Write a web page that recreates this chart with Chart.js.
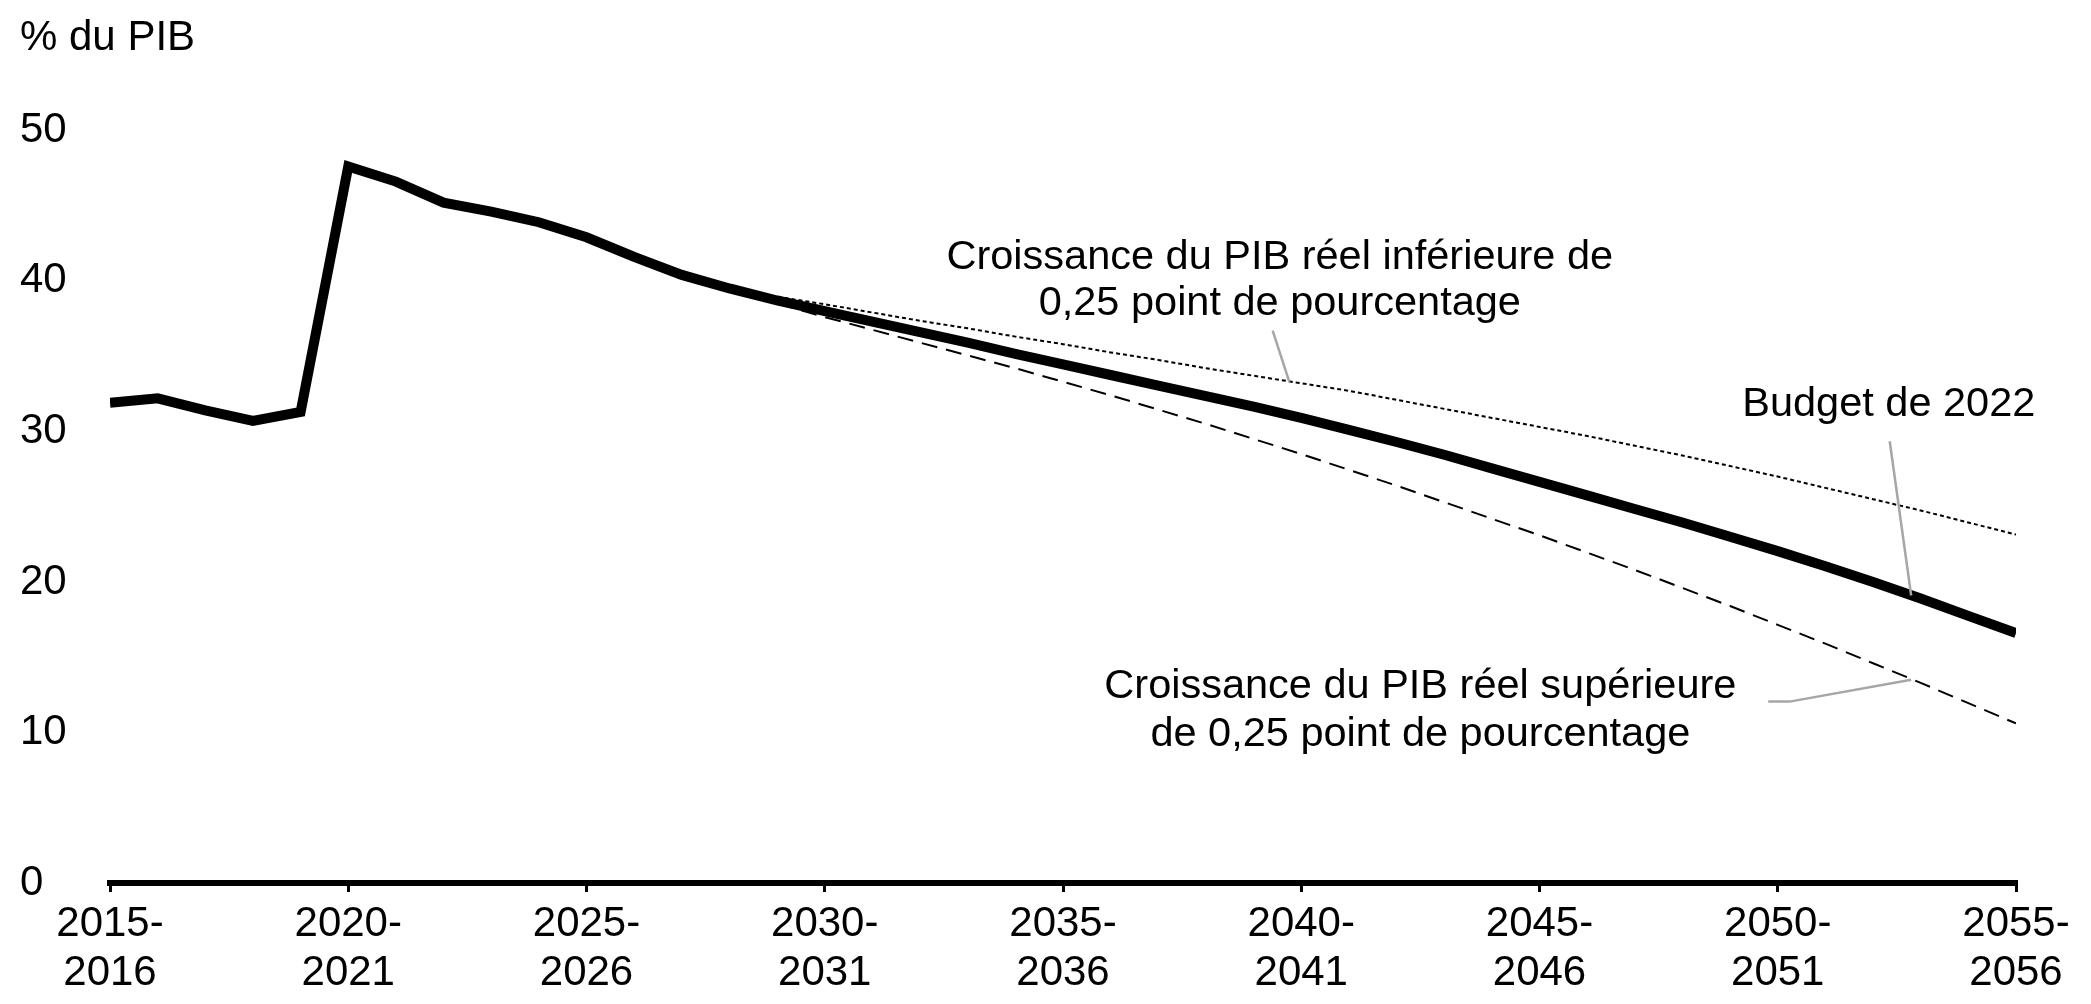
<!DOCTYPE html>
<html>
<head>
<meta charset="utf-8">
<script src="https://cdn.jsdelivr.net/npm/chart.js@4.4.1/dist/chart.umd.min.js"></script>
<style>
  html, body { margin: 0; padding: 0; background: #fff; }
  canvas { display: block; }
</style>
</head>
<body>
<canvas id="chart1" width="2091" height="1004"></canvas>
<script>
// fiscal years, labelled by start year (2015 = 2015-2016)
const years = [2015, 2016, 2017, 2018, 2019, 2020, 2021, 2022, 2023, 2024,
               2025, 2026, 2027, 2028, 2029, 2030, 2031, 2032, 2033, 2034,
               2035, 2036, 2037, 2038, 2039, 2040, 2041, 2042, 2043, 2044,
               2045, 2046, 2047, 2048, 2049, 2050, 2051, 2052, 2053, 2054, 2055];

// Budget de 2022
const budget2022 = [31.9, 32.2, 31.4, 30.7, 31.3, 47.6, 46.6, 45.2, 44.6, 43.9,
                    42.9, 41.6, 40.4, 39.5, 38.7, 38.0, 37.3, 36.6, 35.9, 35.15,
                    34.45, 33.75, 33.05, 32.35, 31.65, 30.9, 30.1, 29.3, 28.45, 27.55,
                    26.65, 25.75, 24.85, 23.95, 23.0, 22.05, 21.05, 20.0, 18.9, 17.75, 16.6];

// croissance du PIB réel inférieure de 0,25 point
const slowerGrowth = [null, null, null, null, null, null, null, null, null, null,
                      null, null, null, 39.5, 38.95, 38.45, 37.9, 37.35, 36.85, 36.3,
                      35.8, 35.25, 34.75, 34.2, 33.7, 33.2, 32.7, 32.1, 31.5, 30.9,
                      30.3, 29.7, 29.05, 28.4, 27.7, 27.0, 26.25, 25.5, 24.75, 23.95, 23.15];

// croissance du PIB réel supérieure de 0,25 point
const fasterGrowth = [null, null, null, null, null, null, null, null, null, null,
                      null, null, null, 39.5, 38.5, 37.6, 36.75, 35.9, 35.05, 34.2,
                      33.3, 32.4, 31.45, 30.5, 29.5, 28.5, 27.45, 26.4, 25.3, 24.2,
                      23.1, 21.95, 20.8, 19.6, 18.4, 17.15, 15.9, 14.6, 13.3, 11.95, 10.6];

const FONT = '"Liberation Sans", Arial, sans-serif';

const toPoints = vals => years.map((yr, i) => ({ x: yr, y: vals[i] }));

// callout texts, anchored in data units
const notes = [
  { lines: ['Croissance du PIB réel inférieure de', '0,25 point de pourcentage'],
    x: 2039.55, y: [41.55, 38.5],
    leader: [[2039.4, 36.7], [2039.75, 33.3]] },
  { lines: ['Budget de 2022'],
    x: 2052.33, y: [31.8],
    leader: [[2052.35, 29.35], [2052.8, 19.1]] },
  { lines: ['Croissance du PIB réel supérieure', 'de 0,25 point de pourcentage'],
    x: 2042.5, y: [13.05, 9.85],
    leader: [[2049.8, 12.05], [2050.25, 12.05], [2052.8, 13.5]] },
];

const calloutPlugin = {
  id: 'callouts',
  afterDatasetsDraw(chart) {
    const { ctx, scales: { x, y } } = chart;
    ctx.save();
    ctx.strokeStyle = '#a6a6a6';
    ctx.lineWidth = 2.5;
    for (let n of notes) {
      ctx.beginPath();
      n.leader.forEach(([lx, ly], i) => {
        const px = x.getPixelForValue(lx), py = y.getPixelForValue(ly);
        if (i === 0) ctx.moveTo(px, py); else ctx.lineTo(px, py);
      });
      ctx.stroke();
    }
    ctx.fillStyle = '#000';
    ctx.font = '41.5px ' + FONT;
    ctx.textAlign = 'center';
    ctx.textBaseline = 'middle';
    for (let n of notes) {
      n.lines.forEach((txt, i) => {
        ctx.fillText(txt, x.getPixelForValue(n.x), y.getPixelForValue(n.y[i]));
      });
    }
    ctx.restore();
  }
};

const debt_data = {
  datasets: [{
    label: 'Budget de 2022',
    data: toPoints(budget2022),
    borderColor: '#000',
    borderWidth: 10,
    pointRadius: 0,
    tension: 0,
    order: 0
  }, {
    label: 'Croissance du PIB réel inférieure de 0,25 point de pourcentage',
    data: toPoints(slowerGrowth),
    borderColor: '#000',
    borderWidth: 2,
    borderDash: [4, 3],
    pointRadius: 0,
    tension: 0,
    order: 1
  }, {
    label: 'Croissance du PIB réel supérieure de 0,25 point de pourcentage',
    data: toPoints(fasterGrowth),
    borderColor: '#000',
    borderWidth: 2,
    borderDash: [16, 9],
    pointRadius: 0,
    tension: 0,
    order: 2
  }]
};

const debt_config = {
  type: 'line',
  data: debt_data,
  options: {
    responsive: false,
    devicePixelRatio: 1,
    animation: false,
    layout: { padding: { left: 20, right: 75, top: 0, bottom: 2 } },
    plugins: {
      legend: { display: false },
      tooltip: { enabled: false },
      title: {
        display: true,
        text: '% du PIB',
        align: 'start',
        color: '#000',
        font: { family: FONT, size: 42, weight: 'normal' },
        padding: { top: 13, bottom: 67 }
      }
    },
    scales: {
      x: {
        type: 'linear',
        min: 2015,
        max: 2055,
        afterFit: scale => { scale.height = 119; },
        grid: { drawOnChartArea: false, drawTicks: true, tickLength: 9, color: '#000', lineWidth: 3 },
        border: { display: true, color: '#000', width: 6 },
        ticks: {
          stepSize: 5,
          color: '#000',
          padding: 8,
          maxRotation: 0,
          font: { family: FONT, size: 42, lineHeight: 1.16 },
          callback: v => [v + '-', String(v + 1)]
        }
      },
      y: {
        min: 0,
        max: 50,
        grid: { display: false },
        border: { display: false },
        afterFit: scale => { scale.width = 90; },
        ticks: {
          stepSize: 10,
          color: '#000',
          crossAlign: 'far',
          font: { family: FONT, size: 42 }
        }
      }
    }
  },
  plugins: [calloutPlugin]
};

const debt_line = new Chart(document.getElementById('chart1'), debt_config);
</script>
</body>
</html>
